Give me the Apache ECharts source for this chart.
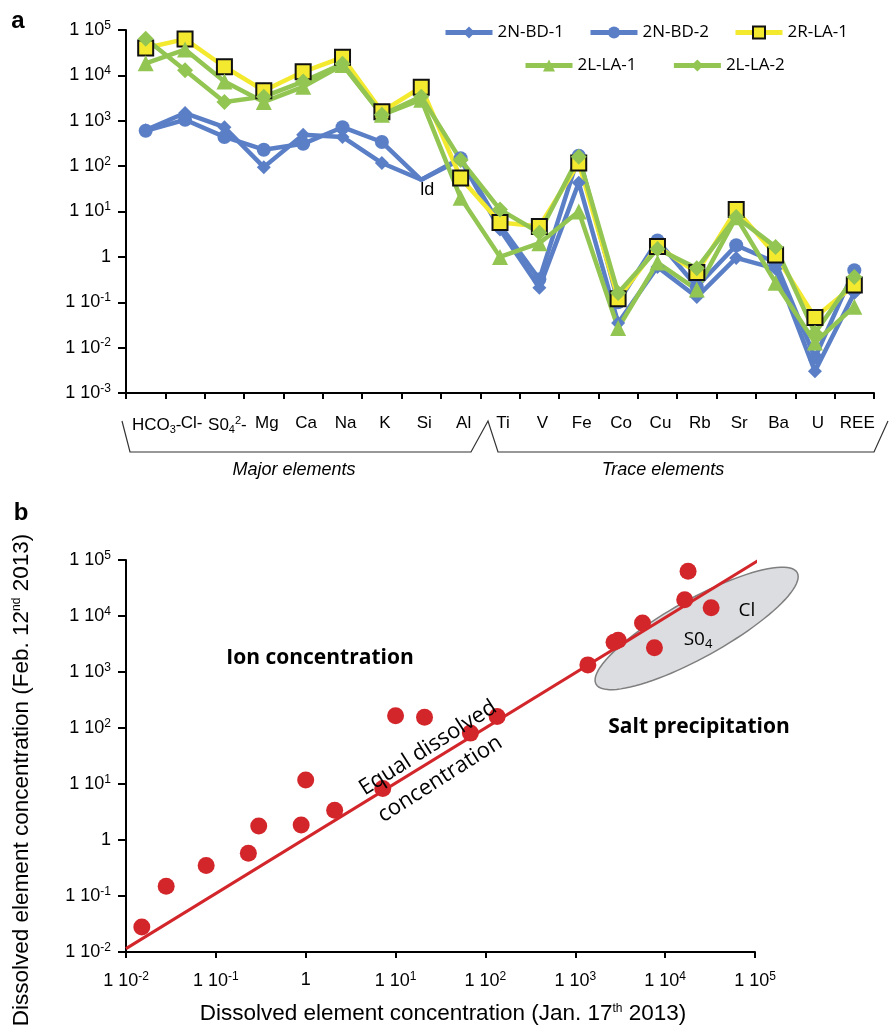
<!DOCTYPE html>
<html>
<head>
<meta charset="utf-8">
<script src="https://cdn.jsdelivr.net/npm/echarts@6/dist/echarts.min.js"></script>
<style>
html,body{margin:0;padding:0;background:#fff;}
#c{width:892px;height:1027px;}
</style>
</head>
<body>
<div id="c"></div>
<script>
// ---- Panel a: element concentrations per sample ----
const categories = ['HCO3-','Cl-','SO42-','Mg','Ca','Na','K','Si','Al','Ti','V','Fe','Co','Cu','Rb','Sr','Ba','U','REE'];
const bd1  = [620,1480,720,95,490,440,117,50,140,4.0,0.21,43,0.035,0.6,0.13,0.95,0.55,0.003,0.16];
const bd2  = [600,1050,440,230,310,720,340,50,150,5.0,0.32,170,0.1,2.3,0.22,1.8,0.75,0.006,0.51];
const rla1 = [40000,63000,15500,4600,12000,25000,1580,5500,55,5.7,4.7,117,0.12,1.7,0.45,11,1.1,0.046,0.24];
const lla1 = [18500,37000,7300,2600,5600,17000,1350,2900,20,1.0,2.0,10,0.027,0.75,0.19,7.5,0.27,0.013,0.08];
const lla2 = [64000,13000,2600,3400,7300,18000,1350,3400,137,11,3.4,160,0.16,1.5,0.56,7.6,1.66,0.021,0.36];
const belowDetection = 'Si';          // blue samples: under detection limit
const categoryLabels = { 'HCO3-': 'HCO{sub|3}-', 'SO42-': 'S0{sub|4}{sup|2}-' };
const labelShift = { 'HCO3-': 22, 'Cl-': 13 };   // extra left padding for crowded labels

// ---- Panel b: concentrations on two sampling dates ----
const janConc = [0.015,0.028,0.078,0.23,0.30,0.89,2.1,1.0,7.2,10,21,68,135,1380,2700,3000,5600,7600,16500,18000,32500];
const febConc = [0.028,0.15,0.35,0.58,1.78,1.86,3.4,11.8,8.3,166,155,81,160,1340,3400,3700,7500,2700,19500,63000,14000];
const equalLine = [[0.01, 0.0115], [111000, 100000]];
const saltZoneCenter = [22400, 6000];

const BLUE = '#5b7fc6', GREEN = '#93c552', YELLOW = '#f3ea2f', RED = '#d3262b';
const AX = 'Liberation Sans, Arial, sans-serif';
const CAL = 'Open Sans, Lato, sans-serif';

function powLabel(v) {
  const e = Math.round(Math.log10(v));
  return e === 0 ? '1' : '1 10{s|' + e + '}';
}
const powRich = { s: { fontSize: 12, fontFamily: AX, color: '#000', padding: [0, 0, 9, 0] } };

function logAxis(grid, min, max, extra) {
  return Object.assign({
    type: 'log', logBase: 10, gridIndex: grid, min: min, max: max,
    splitLine: { show: false }, minorTick: { show: false },
    axisLine: { show: true, lineStyle: { color: '#000', width: 2 } },
    axisTick: { show: true, length: 8, lineStyle: { color: '#000', width: 2 } },
    axisLabel: { formatter: powLabel, rich: powRich, fontFamily: AX, fontSize: 18, color: '#000', margin: 15 }
  }, extra || {});
}

function sampleSeries(name, data, color, symbol, size, extra) {
  return Object.assign({
    type: 'line', name: name, xAxisIndex: 0, yAxisIndex: 0,
    data: data.map((v, i) => categories[i] === belowDetection && (name.indexOf('BD') >= 0)
      ? { value: v, symbol: 'none' } : v),
    symbol: symbol, symbolSize: size,
    lineStyle: { color: color, width: 4.5 },
    itemStyle: { color: color },
    emphasis: { disabled: true }
  }, extra || {});
}

const chart = echarts.init(document.getElementById('c'), null, { renderer: 'canvas' });

const legendBase = {
  itemWidth: 47, itemHeight: 15, padding: 0,
  lineStyle: { width: 5 },
  textStyle: { fontFamily: CAL, fontSize: 17, color: '#000' }
};

const option = {
  animation: false,
  backgroundColor: '#fff',
  grid: [
    { left: 126, top: 30, width: 748, height: 363 },
    { left: 126, top: 560, width: 629, height: 392 }
  ],
  legend: [
    Object.assign({ data: ['2N-BD-1', '2N-BD-2', '2R-LA-1'], left: 443, top: 24, itemGap: 24 }, legendBase),
    Object.assign({ data: ['2L-LA-1', '2L-LA-2'], left: 523, top: 57, itemGap: 35 }, legendBase)
  ],
  xAxis: [
    {
      type: 'category', gridIndex: 0,
      data: categories.map(c => ({ value: c, textStyle: { padding: [0, 0, 0, labelShift[c] || 6] } })),
      axisLine: { lineStyle: { color: '#000', width: 2 } },
      axisTick: { show: true, length: 6, lineStyle: { color: '#000', width: 2 } },
      axisLabel: {
        interval: 0, margin: 22, fontFamily: AX, fontSize: 17, color: '#000',
        formatter: v => categoryLabels[v] || v,
        rich: {
          sub: { fontSize: 11, fontFamily: AX, color: '#000', padding: [9, 0, 0, 0] },
          sup: { fontSize: 11, fontFamily: AX, color: '#000', padding: [0, 0, 9, 0] }
        }
      }
    },
    logAxis(1, 0.01, 100000, {
      axisTick: { show: true, length: 6, lineStyle: { color: '#000', width: 2 } },
      axisLabel: { formatter: powLabel, rich: powRich, fontFamily: AX, fontSize: 18, color: '#000', margin: 19 }
    })
  ],
  yAxis: [
    logAxis(0, 0.001, 100000),
    logAxis(1, 0.01, 100000)
  ],
  series: [
    sampleSeries('2N-BD-1', bd1, BLUE, 'diamond', 14),
    sampleSeries('2N-BD-2', bd2, BLUE, 'circle', 14),
    sampleSeries('2R-LA-1', rla1, YELLOW, 'rect', 15, {
      itemStyle: { color: YELLOW, borderColor: '#111', borderWidth: 2 }
    }),
    sampleSeries('2L-LA-1', lla1, GREEN, 'triangle', 16),
    sampleSeries('2L-LA-2', lla2, GREEN, 'diamond', 16),
    {
      type: 'line', xAxisIndex: 1, yAxisIndex: 1, data: equalLine, clip: false,
      symbol: 'none', lineStyle: { color: RED, width: 3 }, z: 3, silent: true
    },
    {
      type: 'scatter', xAxisIndex: 1, yAxisIndex: 1, z: 4,
      data: janConc.map((x, i) => [x, febConc[i]]),
      symbol: 'circle', symbolSize: 17, itemStyle: { color: RED, opacity: 1 }
    }
  ]
};
chart.setOption(option);

// ---- annotations ----
const g = [];
function txt(x, y, text, style, extra) {
  g.push(Object.assign({
    type: 'text', x: x, y: y, z: 50,
    style: Object.assign({ text: text, fill: '#000', align: 'center', verticalAlign: 'middle',
      textAlign: 'center', textVerticalAlign: 'middle' }, style)
  }, extra || {}));
}
// panel letters
txt(18, 21, 'a', { fontFamily: AX, fontSize: 24, fontWeight: 'bold' });
txt(21, 513, 'b', { fontFamily: AX, fontSize: 24, fontWeight: 'bold' });

// grouping brackets under the element axis
const bracketStyle = { stroke: '#333', lineWidth: 1.2, fill: null };
g.push({ type: 'polyline', z: 50, shape: { points: [[122, 421], [130, 452], [471, 452], [488, 421], [498, 452], [874, 452], [888, 421]] }, style: bracketStyle });
txt(294, 470, 'Major elements', { fontFamily: AX, fontSize: 18, fontStyle: 'italic' });
txt(663, 470, 'Trace elements', { fontFamily: AX, fontSize: 18, fontStyle: 'italic' });

// detection-limit marker
const ldIdx = categories.indexOf(belowDetection);
const ldPt = chart.convertToPixel({ gridIndex: 0 }, [ldIdx, bd1[ldIdx]]);
txt(ldPt[0] + 6, ldPt[1] + 10, 'ld', { fontFamily: AX, fontSize: 18 });

// salt precipitation zone
const ec = chart.convertToPixel({ gridIndex: 1 }, saltZoneCenter);
const ea = 115, eb = 29, th = 29 * Math.PI / 180;
const pts = [];
for (let k = 0; k < 96; k++) {
  const t = k / 96 * Math.PI * 2;
  const ux = ea * Math.cos(t), uy = eb * Math.sin(t);
  pts.push([ec[0] + ux * Math.cos(th) - uy * Math.sin(th), ec[1] - (ux * Math.sin(th) + uy * Math.cos(th))]);
}
g.push({ type: 'polygon', z: 1, shape: { points: pts }, style: { fill: '#dcdde0', stroke: '#7f7f7f', lineWidth: 1.5 } });

txt(320, 658, 'Ion concentration', { fontFamily: CAL, fontSize: 21, fontWeight: 'bold' });
txt(699, 727, 'Salt precipitation', { fontFamily: CAL, fontSize: 21, fontWeight: 'bold' });
txt(747, 611, 'Cl', { fontFamily: CAL, fontSize: 19 });
txt(698, 640, 'S0{sub|4}', { fontFamily: CAL, fontSize: 19,
  rich: { sub: { fontFamily: CAL, fontSize: 13, padding: [8, 0, 0, 0] } } });

const rot = 32.5 * Math.PI / 180;
txt(428, 748, 'Equal dissolved', { fontFamily: CAL, fontSize: 22 }, { rotation: rot });
txt(440, 779, 'concentration', { fontFamily: CAL, fontSize: 22 }, { rotation: rot });

// axis titles of panel b
const supRich = { s: { fontFamily: AX, fontSize: 12, padding: [0, 0, 11, 0] } };
txt(443, 1014, 'Dissolved element concentration (Jan. 17{s|th} 2013)', { fontFamily: AX, fontSize: 22.5, rich: supRich });
txt(22, 780, 'Dissolved element concentration (Feb. 12{s|nd} 2013)', { fontFamily: AX, fontSize: 22.5, rich: supRich },
  { rotation: Math.PI / 2 });

chart.setOption({ graphic: { elements: g } });
</script>
</body>
</html>
